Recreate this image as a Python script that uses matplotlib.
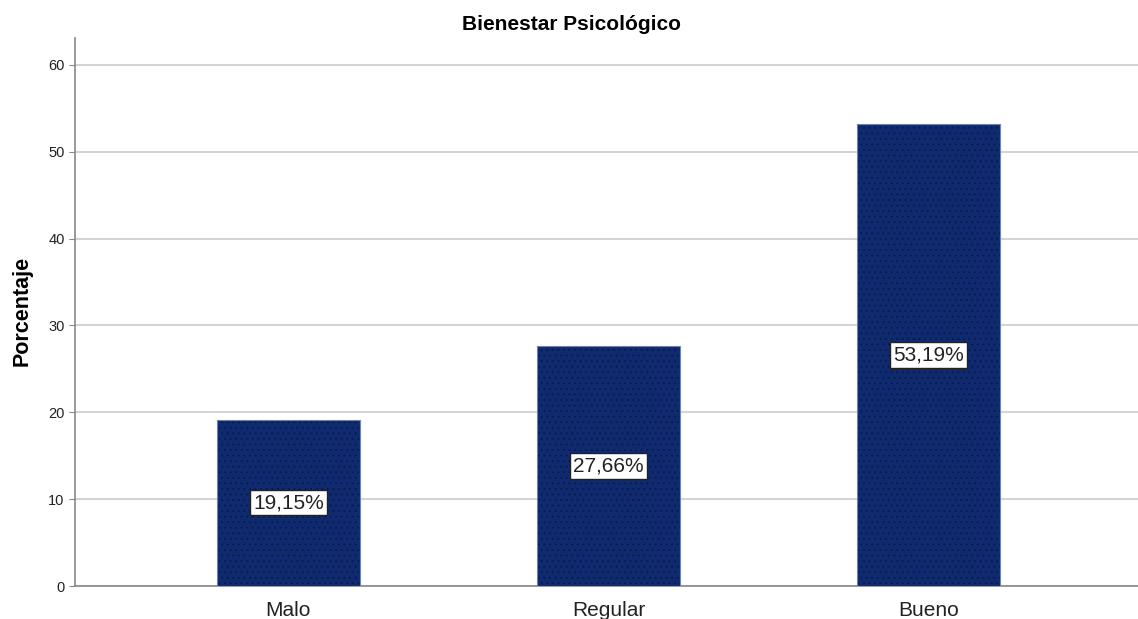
import matplotlib.pyplot as plt
import numpy as np

categories = ["Malo", "Regular", "Bueno"]
percentages = [19.15, 27.66, 53.19]
value_labels = ["19,15%", "27,66%", "53,19%"]
y_ticks = [0, 10, 20, 30, 40, 50, 60]

plt.rcParams['font.family'] = ['Liberation Sans', 'DejaVu Sans']
plt.rcParams['hatch.linewidth'] = 0.6

fig = plt.figure(figsize=(11.38, 6.19), dpi=100)
ax = fig.add_axes([75 / 1138, 1 - 586 / 619, 1 - 75 / 1138, (586 - 38) / 619])

x = np.arange(len(categories))
# dotted fill, then outline
ax.bar(x, percentages, width=0.447, color="#0f2a6e", edgecolor="#081a4a", hatch="...", linewidth=0, zorder=3)
ax.bar(x, percentages, width=0.447, fill=False, edgecolor="#6f82b8", linewidth=0.8, zorder=3)

for xi, v, lab in zip(x, percentages, value_labels):
    ax.text(xi, v / 2, lab, ha="center", va="center", fontsize=15, color="#222222", zorder=4,
            bbox=dict(boxstyle="square,pad=0.15", facecolor="white", edgecolor="#222222", linewidth=1))

ax.set_xlim(-0.667, 2.655)
ax.set_ylim(0, 63.1)
ax.set_yticks(y_ticks)
ax.set_xticks(x)
ax.set_xticklabels(categories, fontsize=15, color="#222222")
ax.tick_params(axis="y", labelsize=10.5, colors="#222222", length=4, color="#888888")
ax.tick_params(axis="x", length=0, pad=11)
ax.yaxis.grid(True, color="#d4d4d4", linewidth=1.5, zorder=0)
ax.set_axisbelow(True)

for s in ["top", "right"]:
    ax.spines[s].set_visible(False)
ax.spines["left"].set_color("#888888")
ax.spines["bottom"].set_color("#888888")
ax.spines["left"].set_linewidth(1.2)
ax.spines["bottom"].set_linewidth(1.2)

fig.text(22 / 1138, 1 - 311 / 619, "Porcentaje", rotation=90, ha="center", va="center",
         fontsize=15.5, fontweight="bold")
fig.text(571 / 1138, 1 - 24 / 619, "Bienestar Psicológico", ha="center", va="center",
         fontsize=15, fontweight="bold")

fig.savefig("out.png", dpi=100)
